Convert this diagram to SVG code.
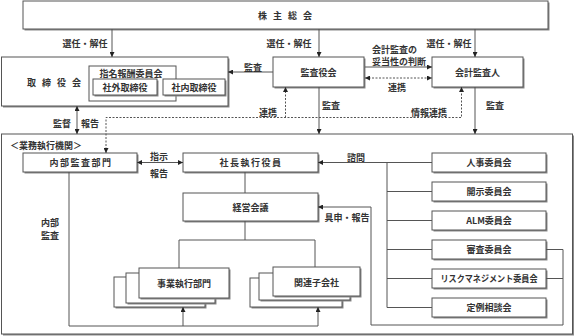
<svg xmlns="http://www.w3.org/2000/svg" width="575" height="336" viewBox="0 0 575 336">
<defs>
<marker id="ar" viewBox="0 0 6 6" refX="6" refY="3" markerWidth="5" markerHeight="5" markerUnits="userSpaceOnUse" orient="auto-start-reverse">
<path d="M0,0 L6,3 L0,6 z" fill="#222"/>
</marker>
<style>
.b{fill:#fff;stroke:#555;stroke-width:1}
.s{fill:#8a8a8a;stroke:none}
.t{font-family:"Noto Sans CJK JP","Noto Sans CJK SC",sans-serif;font-size:9px;font-weight:bold;fill:#333;text-anchor:middle;dominant-baseline:central}
.l{fill:none;stroke:#555;stroke-width:1}
.d{fill:none;stroke:#555;stroke-width:1;stroke-dasharray:2,1.5}
.ls{letter-spacing:1.5px}
</style>
</defs>
<g id="gyomu">
<rect class="s" x="3" y="135.5" width="571" height="200"/>
<rect class="b" x="1.5" y="134" width="571" height="200"/>
<text class="t" x="10" y="145" style="text-anchor:start">＜業務執行機関＞</text>
</g>
<g id="kabunushi">
<rect class="s" x="24.5" y="2.5" width="525" height="28"/>
<rect class="b" x="23" y="1" width="525" height="28"/>
<text class="t" x="285" y="15" xml:space="preserve" style="word-spacing:4px">株 主 総 会</text>
</g>
<g id="torishimariyaku">
<rect class="s" x="3" y="58.5" width="226.5" height="49"/>
<rect class="b" x="1.5" y="57" width="226.5" height="49"/>
<text class="t" x="54" y="82" xml:space="preserve" style="word-spacing:4px">取 締 役 会</text>
<rect class="b" x="89" y="66" width="87" height="35"/>
<text class="t" x="131" y="73">指名報酬委員会</text>
<rect class="s" x="94.5" y="80.5" width="64" height="16"/>
<rect class="b" x="93" y="79" width="64" height="16"/>
<text class="t" x="125" y="87">社外取締役</text>
<rect class="s" x="164.5" y="80.5" width="62" height="16"/>
<rect class="b" x="163" y="79" width="62" height="16"/>
<text class="t" x="194" y="87">社内取締役</text>
</g>
<g id="kansayakukai">
<rect class="s" x="274.5" y="58.5" width="91" height="30"/>
<rect class="b" x="273" y="57" width="91" height="30"/>
<text class="t" x="318.5" y="72">監査役会</text>
</g>
<g id="kaikeikansanin">
<rect class="s" x="433.5" y="58.5" width="91" height="30"/>
<rect class="b" x="432" y="57" width="91" height="30"/>
<text class="t" x="477.5" y="72">会計監査人</text>
</g>
<g id="naibukansa">
<rect class="s" x="24.5" y="154.5" width="114" height="19"/>
<rect class="b" x="23" y="153" width="114" height="19"/>
<text class="t ls" x="81" y="162.5">内部監査部門</text>
</g>
<g id="shacho">
<rect class="s" x="184.5" y="154.5" width="135" height="19"/>
<rect class="b" x="183" y="153" width="135" height="19"/>
<text class="t ls" x="251" y="162.5">社長執行役員</text>
</g>
<g id="keiei">
<rect class="s" x="184.5" y="194.5" width="135" height="28"/>
<rect class="b" x="183" y="193" width="135" height="28"/>
<text class="t" x="250.5" y="207">経営会議</text>
</g>
<g id="jigyo">
<rect class="s" x="115.5" y="278.5" width="91" height="30"/>
<rect class="b" x="114" y="277" width="91" height="30"/>
<rect class="s" x="127.5" y="274.5" width="89" height="30"/>
<rect class="b" x="126" y="273" width="89" height="30"/>
<rect class="s" x="140.5" y="269.5" width="90" height="30"/>
<rect class="b" x="139" y="268" width="90" height="30"/>
<text class="t" x="184" y="283">事業執行部門</text>
</g>
<g id="kanren">
<rect class="s" x="251.5" y="279.5" width="92" height="29"/>
<rect class="b" x="250" y="278" width="92" height="29"/>
<rect class="s" x="260.5" y="274.5" width="91" height="27"/>
<rect class="b" x="259" y="273" width="91" height="27"/>
<rect class="s" x="274.5" y="268.5" width="87" height="29"/>
<rect class="b" x="273" y="267" width="87" height="29"/>
<text class="t" x="316.5" y="282">関連子会社</text>
</g>
<g id="jinji">
<rect class="s" x="433.5" y="154.5" width="114" height="19"/>
<rect class="b" x="432" y="153" width="114" height="19"/>
<text class="t" x="489" y="162.5">人事委員会</text>
</g>
<g id="kaiji">
<rect class="s" x="433.5" y="183.5" width="114" height="19"/>
<rect class="b" x="432" y="182" width="114" height="19"/>
<text class="t" x="489" y="191.5">開示委員会</text>
</g>
<g id="alm">
<rect class="s" x="433.5" y="212.5" width="114" height="19"/>
<rect class="b" x="432" y="211" width="114" height="19"/>
<text class="t" x="489" y="220.5">ALM委員会</text>
</g>
<g id="shinsa">
<rect class="s" x="433.5" y="241.5" width="114" height="19"/>
<rect class="b" x="432" y="240" width="114" height="19"/>
<text class="t" x="489" y="249.5">審査委員会</text>
</g>
<g id="risk">
<rect class="s" x="433.5" y="270.5" width="114" height="19"/>
<rect class="b" x="432" y="269" width="114" height="19"/>
<text class="t" x="489" y="278.5" textLength="97" lengthAdjust="spacingAndGlyphs">リスクマネジメント委員会</text>
</g>
<g id="teirei">
<rect class="s" x="433.5" y="299.5" width="114" height="19"/>
<rect class="b" x="432" y="298" width="114" height="19"/>
<text class="t" x="489" y="307.5">定例相談会</text>
</g>
<g id="connectors">
<path class="l" d="M112,29 V57" marker-end="url(#ar)"/>
<path class="l" d="M319,29 V57" marker-end="url(#ar)"/>
<path class="l" d="M475,29 V57" marker-end="url(#ar)"/>
<path class="l" d="M273,72 H228" marker-end="url(#ar)"/>
<path class="l" d="M365,67 H432" marker-end="url(#ar)"/>
<path class="d" d="M365,78 H432" marker-start="url(#ar)" marker-end="url(#ar)"/>
<path class="l" d="M319,87 V134" marker-end="url(#ar)"/>
<path class="l" d="M475,87 V134" marker-end="url(#ar)"/>
<path class="l" d="M77,106 V134" marker-start="url(#ar)" marker-end="url(#ar)"/>
<path class="d" d="M106,153 V117.5 H461.5 V87" marker-start="url(#ar)" marker-end="url(#ar)"/>
<path class="d" d="M285.5,117.5 V87" marker-end="url(#ar)"/>
<path class="l" d="M137,162.5 H183" marker-start="url(#ar)" marker-end="url(#ar)"/>
<path class="l" d="M245,172 V193"/>
<path class="l" d="M245,221 V240"/>
<path class="l" d="M179,268 V240 H315 V267"/>
<path class="l" d="M69,172 V326 H318 V307" marker-end="url(#ar)"/>
<path class="l" d="M183,326 V307" marker-end="url(#ar)"/>
<path class="l" d="M432,162.5 H318" marker-end="url(#ar)"/>
<path class="l" d="M387,162.5 V307.5 H432"/>
<path class="l" d="M387,191.5 H432 M387,220.5 H432 M387,249.5 H432 M387,278.5 H432"/>
<path class="l" d="M546,249.5 H563 V325 H371 V207 H318" marker-end="url(#ar)"/>
<path class="l" d="M546,278.5 H563"/>
</g>
<g id="labels">
<text class="t" x="85" y="43">選任・解任</text>
<text class="t" x="289" y="43">選任・解任</text>
<text class="t" x="449" y="43">選任・解任</text>
<text class="t" x="253" y="67">監査</text>
<text class="t" x="372" y="49" style="text-anchor:start">会計監査の</text>
<text class="t" x="372" y="61" style="text-anchor:start">妥当性の判断</text>
<text class="t" x="397" y="87">連携</text>
<text class="t" x="331" y="105">監査</text>
<text class="t" x="495" y="105">監査</text>
<text class="t" x="268" y="112">連携</text>
<text class="t" x="429" y="112">情報連携</text>
<text class="t" x="62" y="123">監督</text>
<text class="t" x="90" y="123">報告</text>
<text class="t" x="159" y="156">指示</text>
<text class="t" x="159" y="173">報告</text>
<text class="t" x="356" y="157">諮問</text>
<text class="t" x="347" y="217">具申・報告</text>
<text class="t" x="50" y="222">内部</text>
<text class="t" x="50" y="235">監査</text>
</g>
</svg>
